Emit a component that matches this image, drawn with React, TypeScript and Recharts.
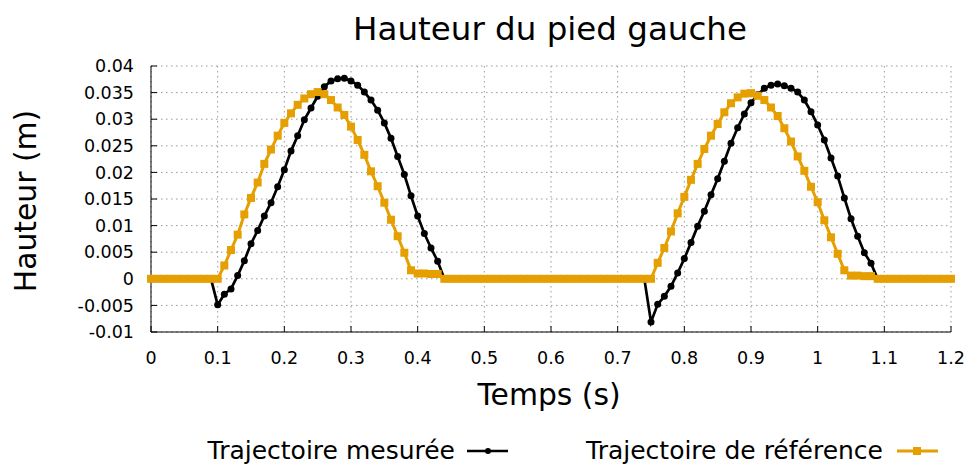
import { CartesianGrid, Line, LineChart, XAxis, YAxis } from "recharts"

// sampled every 0.01 s from 0 to 1.2 s
const measured = [
  0, 0, 0, 0, 0, 0, 0, 0, 0, 0,
  -0.0049, -0.0029, -0.0019, 0.0006, 0.0034, 0.0066, 0.0091, 0.0118, 0.0143, 0.0173,
  0.0205, 0.024, 0.0269, 0.0299, 0.0321, 0.0343, 0.0361, 0.0372, 0.0376, 0.0377,
  0.0372, 0.0364, 0.0351, 0.0336, 0.0317, 0.0293, 0.0264, 0.023, 0.0196, 0.0156,
  0.0118, 0.0085, 0.0058, 0.0033, 0, 0, 0, 0, 0, 0,
  0, 0, 0, 0, 0, 0, 0, 0, 0, 0,
  0, 0, 0, 0, 0, 0, 0, 0, 0, 0,
  0, 0, 0, 0, 0, -0.0081, -0.0048, -0.0033, -0.0014, 0.0011,
  0.0038, 0.0068, 0.0099, 0.0127, 0.0158, 0.0188, 0.0221, 0.0255, 0.0284, 0.031,
  0.0331, 0.0346, 0.0358, 0.0364, 0.0366, 0.0363, 0.0358, 0.0351, 0.0336, 0.0314,
  0.0289, 0.0261, 0.0227, 0.0193, 0.0152, 0.0113, 0.008, 0.0049, 0.0029, 0,
  0, 0, 0, 0, 0, 0, 0, 0, 0, 0,
  0,
]

const reference = [
  0, 0, 0, 0, 0, 0, 0, 0, 0, 0,
  0, 0.0025, 0.0054, 0.0083, 0.0121, 0.0152, 0.0181, 0.0216, 0.0243, 0.0269,
  0.0293, 0.0311, 0.0327, 0.0339, 0.0347, 0.0351, 0.0347, 0.0336, 0.0322, 0.0308,
  0.0286, 0.0261, 0.0233, 0.0202, 0.0174, 0.0143, 0.0111, 0.008, 0.0049, 0.0016,
  0.001, 0.001, 0.0009, 0.0009, 0, 0, 0, 0, 0, 0,
  0, 0, 0, 0, 0, 0, 0, 0, 0, 0,
  0, 0, 0, 0, 0, 0, 0, 0, 0, 0,
  0, 0, 0, 0, 0, 0, 0.003, 0.0058, 0.0089, 0.0123,
  0.0154, 0.0186, 0.0216, 0.0244, 0.0269, 0.0291, 0.0313, 0.033, 0.0341, 0.0348,
  0.0349, 0.0344, 0.0336, 0.0322, 0.0306, 0.0283, 0.0258, 0.023, 0.0203, 0.0173,
  0.0144, 0.011, 0.0078, 0.0047, 0.0016, 0.0006, 0.0006, 0.0005, 0.0005, 0,
  0, 0, 0, 0, 0, 0, 0, 0, 0, 0,
  0,
]

const xTicks = [0, 0.1, 0.2, 0.3, 0.4, 0.5, 0.6, 0.7, 0.8, 0.9, 1, 1.1, 1.2]
const yTicks = [-0.01, -0.005, 0, 0.005, 0.01, 0.015, 0.02, 0.025, 0.03, 0.035, 0.04]

const ORANGE = "#e69f00"
const FONT = "'DejaVu Sans', sans-serif"

const data = measured.map((m, i) => ({
  t: i / 100,
  measured: m,
  reference: reference[i],
}))

function SquareDot(props: any) {
  const { cx, cy, index } = props
  if (cx == null || cy == null) return null
  return <rect key={index} x={cx - 4} y={cy - 4} width={8} height={8} fill={ORANGE} />
}

export default function App() {
  const tickStyle = { fill: "#000", fontSize: 17.5, fontFamily: FONT }
  return (
    <div style={{ position: "absolute", left: 0, top: 0, width: 966, height: 464, background: "#fff" }}>
      <LineChart
        width={966}
        height={464}
        data={data}
        margin={{ top: 66, right: 15, left: 91, bottom: 102 }}
      >
        <CartesianGrid stroke="#999" strokeDasharray="1.5 3.5" />
        <XAxis
          dataKey="t"
          type="number"
          domain={[0, 1.2]}
          ticks={xTicks}
          height={30}
          axisLine={{ stroke: "#000" }}
          tickLine={{ stroke: "#000" }}
          tickSize={-6}
          tickMargin={26}
          tick={tickStyle}
          interval={0}
        />
        <XAxis
          xAxisId="top"
          orientation="top"
          dataKey="t"
          type="number"
          domain={[0, 1.2]}
          ticks={xTicks}
          height={0}
          axisLine={{ stroke: "#000" }}
          tickLine={{ stroke: "#000" }}
          tickSize={-6}
          tickFormatter={() => ""}
          interval={0}
        />
        <YAxis
          type="number"
          domain={[-0.01, 0.04]}
          ticks={yTicks}
          width={60}
          axisLine={{ stroke: "#000" }}
          tickLine={{ stroke: "#000" }}
          tickSize={-6}
          tickMargin={23}
          tick={tickStyle}
          interval={0}
        />
        <YAxis
          yAxisId="right"
          orientation="right"
          type="number"
          domain={[-0.01, 0.04]}
          ticks={yTicks}
          width={0}
          axisLine={{ stroke: "#000" }}
          tickLine={{ stroke: "#000" }}
          tickSize={-6}
          tickFormatter={() => ""}
          interval={0}
        />
        <Line
          dataKey="measured"
          stroke="#000"
          strokeWidth={2.7}
          dot={{ r: 3.5, fill: "#000", stroke: "none" }}
          isAnimationActive={false}
        />
        <Line
          dataKey="reference"
          stroke={ORANGE}
          strokeWidth={3}
          dot={<SquareDot />}
          isAnimationActive={false}
        />
      </LineChart>
      <svg
        width={966}
        height={464}
        style={{ position: "absolute", left: 0, top: 0, pointerEvents: "none" }}
        fontFamily={FONT}
      >
        <text x={550} y={40} textAnchor="middle" fontSize={32.5}>
          Hauteur du pied gauche
        </text>
        <text x={549} y={405} textAnchor="middle" fontSize={29.8}>
          Temps (s)
        </text>
        <text x={36} y={201} textAnchor="middle" fontSize={29.8} transform="rotate(-90 36 201)">
          Hauteur (m)
        </text>
        <text x={455} y={459} textAnchor="end" fontSize={25}>
          Trajectoire mesurée
        </text>
        <line x1={467} x2={508} y1={451} y2={451} stroke="#000" strokeWidth={2.5} />
        <circle cx={488} cy={451} r={3} fill="#000" />
        <text x={883} y={459} textAnchor="end" fontSize={25}>
          Trajectoire de référence
        </text>
        <line x1={897} x2={938} y1={451} y2={451} stroke={ORANGE} strokeWidth={3} />
        <rect x={913} y={447} width={8} height={8} fill={ORANGE} />
      </svg>
    </div>
  )
}
